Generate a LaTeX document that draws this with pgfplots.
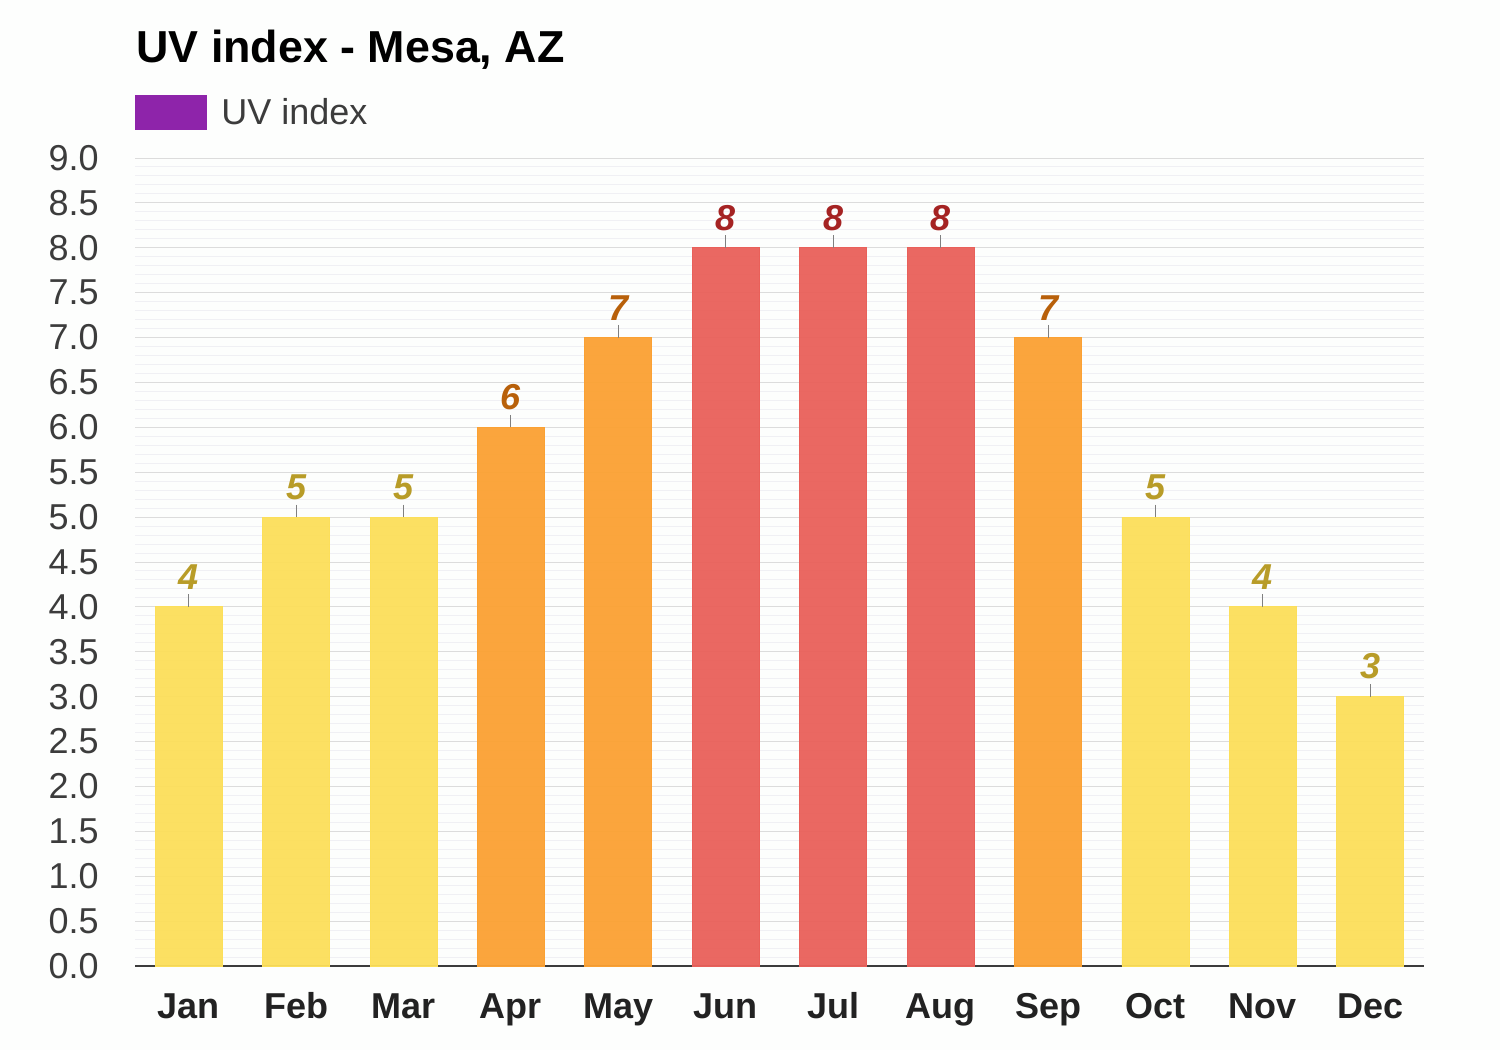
\documentclass[border=0pt]{standalone}
\usepackage{fontspec}
\setmainfont{Liberation Sans}
\usepackage{pgfplots}
\pgfplotsset{compat=1.18}
\definecolor{bgcol}{RGB}{253,254,253}
\definecolor{uvyellow}{RGB}{252,223,90}
\definecolor{uvorange}{RGB}{251,161,51}
\definecolor{uvred}{RGB}{233,96,90}
\definecolor{labyellow}{RGB}{184,156,40}
\definecolor{laborange}{RGB}{184,96,10}
\definecolor{labred}{RGB}{165,35,35}
\definecolor{uvpurple}{RGB}{142,36,170}
\definecolor{gridmajor}{RGB}{220,220,220}
\definecolor{gridminor}{RGB}{240,240,244}
\definecolor{ticktext}{RGB}{60,60,60}
\definecolor{monthtext}{RGB}{34,34,34}
\begin{document}
\begin{tikzpicture}[x=1pt,y=1pt]
\fill[bgcol] (0,0) rectangle (750,525);
\node[anchor=base west, font=\bfseries\fontsize{22.4}{25}\selectfont, inner sep=0pt] at (68,493.5) {UV index - Mesa, AZ};
\begin{axis}[
  at={(67.5pt,42pt)}, anchor=south west,
  scale only axis, width=644.5pt, height=404pt,
  ybar, bar width=33.5pt,
  xmin=-0.5, xmax=11.5, ymin=0, ymax=9,
  xtick={0,...,11},
  xticklabels={Jan,Feb,Mar,Apr,May,Jun,Jul,Aug,Sep,Oct,Nov,Dec},
  ytick={0,0.5,...,9},
  minor y tick num=4,
  ymajorgrids, yminorgrids,
  major grid style={color=gridmajor, line width=0.5pt},
  minor grid style={color=gridminor, line width=0.5pt},
  major tick length=0pt, minor tick length=0pt,
  axis x line*=bottom, axis y line*=left,
  x axis line style={color=ticktext, line width=0.75pt, -},
  y axis line style={draw=none},
  /pgf/number format/assume math mode=true,
  yticklabel style={/pgf/number format/fixed, /pgf/number format/fixed zerofill, /pgf/number format/precision=1,
    font=\fontsize{18}{20}\selectfont, text=ticktext, anchor=east, inner sep=0pt, xshift=-18pt},
  xticklabel style={font=\bfseries\fontsize{18}{20}\selectfont, text=monthtext, anchor=base, inner sep=0pt, yshift=-26pt},
  nodes near coords,
  every node near coord/.append style={font=\bfseries\itshape\fontsize{18}{20}\selectfont, anchor=south, inner sep=0pt, yshift=8.5pt},
  error bars/y dir=plus, error bars/y fixed=0.14, error bars/error mark=none,
  error bars/error bar style={color=gray, line width=0.5pt},
  legend image code/.code={\fill[#1] (0pt,-8.75pt) rectangle (36pt,8.75pt);},
  legend style={at={(0,1)}, anchor=west, yshift=22.75pt, xshift=0pt, draw=none, fill=none, inner sep=0pt,
    font=\fontsize{18}{20}\selectfont, text=ticktext, /tikz/every odd column/.append style={column sep=5pt}},
]
\addlegendimage{fill=uvpurple, draw=none}
\addlegendentry{UV index}
\addplot[forget plot, bar shift=0pt, fill=uvyellow, draw=uvyellow, fill opacity=0.95,
  every node near coord/.append style={text=labyellow, text opacity=1}]
  coordinates {(0,4) (1,5) (2,5) (9,5) (10,4) (11,3)};
\addplot[forget plot, bar shift=0pt, fill=uvorange, draw=uvorange, fill opacity=0.95,
  every node near coord/.append style={text=laborange, text opacity=1}]
  coordinates {(3,6) (4,7) (8,7)};
\addplot[forget plot, bar shift=0pt, fill=uvred, draw=uvred, fill opacity=0.95,
  every node near coord/.append style={text=labred, text opacity=1}]
  coordinates {(5,8) (6,8) (7,8)};
\end{axis}
\end{tikzpicture}
\end{document}
